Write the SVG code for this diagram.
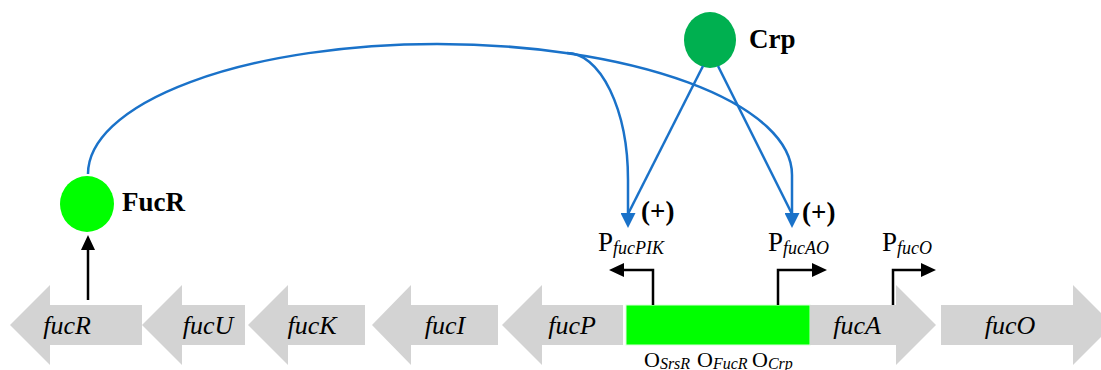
<svg xmlns="http://www.w3.org/2000/svg" width="1101" height="370" viewBox="0 0 1101 370">
  <style>
    .gene { fill: #D3D3D3; }
    .gname { font-family: "Liberation Serif", "Times New Roman", serif; font-style: italic; font-size: 26px; fill: #000; text-anchor: middle; }
    .prot { font-family: "Liberation Serif", "Times New Roman", serif; font-weight: bold; font-size: 27px; fill: #000; }
    .plabel { font-family: "Liberation Serif", "Times New Roman", serif; font-size: 27px; fill: #000; }
    .olabel { font-family: "Liberation Serif", "Times New Roman", serif; font-size: 22px; fill: #000; }
    .sub { font-style: italic; }
    .reg { fill: none; stroke: #1A72C9; stroke-width: 2.5; }
    .prom { fill: none; stroke: #000; stroke-width: 2.5; }
  </style>
  <defs>
    <marker id="blueHead" markerUnits="userSpaceOnUse" markerWidth="15" markerHeight="15" refX="1" refY="7.5" orient="auto">
      <path d="M0,0 L15,7.5 L0,15 z" fill="#1A72C9"/>
    </marker>
    <marker id="blackHead" markerUnits="userSpaceOnUse" markerWidth="15" markerHeight="15" refX="1" refY="7.5" orient="auto">
      <path d="M0,0.5 L15,7.5 L0,14.5 z" fill="#000"/>
    </marker>
  </defs>

  <!-- operon genes -->
  <g id="gene-fucR">
    <polygon class="gene" points="10,325 50,285 50,305 142,305 142,345 50,345 50,365"/>
    <text class="gname" x="67" y="334">fucR</text>
  </g>
  <g id="gene-fucU">
    <polygon class="gene" points="142,325 182,285 182,305 245,305 245,345 182,345 182,365"/>
    <text class="gname" x="208" y="334">fucU</text>
  </g>
  <g id="gene-fucK">
    <polygon class="gene" points="248,325 288,285 288,305 365,305 365,345 288,345 288,365"/>
    <text class="gname" x="312" y="334">fucK</text>
  </g>
  <g id="gene-fucI">
    <polygon class="gene" points="372,325 411,285 411,305 498,305 498,345 411,345 411,365"/>
    <text class="gname" x="445" y="334">fucI</text>
  </g>
  <g id="gene-fucP">
    <polygon class="gene" points="502,325 542,285 542,305 623,305 623,345 542,345 542,365"/>
    <text class="gname" x="572" y="334">fucP</text>
  </g>
  <g id="operator-region">
    <rect x="626" y="305" width="184" height="40" fill="#00FF00" stroke="#D8FFD8" stroke-width="1"/>
    <text class="olabel" x="644" y="367">O<tspan class="sub" font-size="16" dy="2">SrsR</tspan></text>
    <text class="olabel" x="697" y="367">O<tspan class="sub" font-size="16" dy="2">FucR</tspan></text>
    <text class="olabel" x="752" y="367">O<tspan class="sub" font-size="16" dy="2">Crp</tspan></text>
  </g>
  <g id="gene-fucA">
    <polygon class="gene" points="810,305 896,305 896,285 936,325 896,365 896,345 810,345"/>
    <text class="gname" x="857" y="334">fucA</text>
  </g>
  <g id="gene-fucO">
    <polygon class="gene" points="941,305 1073,305 1073,285 1113,325 1073,365 1073,345 941,345"/>
    <text class="gname" x="1010" y="334">fucO</text>
  </g>

  <!-- promoters -->
  <g id="promoter-fucPIK">
    <text class="plabel" x="598" y="251">P<tspan class="sub" font-size="18" dy="3">fucPIK</tspan></text>
  </g>
  <g id="promoter-fucAO">
    <text class="plabel" x="768" y="251">P<tspan class="sub" font-size="18" dy="3">fucAO</tspan></text>
  </g>
  <g id="promoter-fucO">
    <text class="plabel" x="882" y="251">P<tspan class="sub" font-size="18" dy="3">fucO</tspan></text>
  </g>

  <!-- regulators -->
  <g id="node-FucR">
    <ellipse cx="87" cy="204" rx="27" ry="28" fill="#00FF00"/>
    <text class="prot" x="122" y="211">FucR</text>
  </g>
  <g id="node-Crp">
    <ellipse cx="710" cy="40" rx="26" ry="28" fill="#00B050"/>
    <text class="prot" x="749" y="48">Crp</text>
  </g>

  <!-- activation marks -->
  <g id="label-activation">
    <text class="prot" x="641" y="220">(+)</text>
    <text class="prot" x="802" y="221">(+)</text>
  </g>

  <!-- connectors -->
  <g id="connectors">
    <path class="prom" d="M653,305 V270 H623" marker-end="url(#blackHead)"/>
    <path class="prom" d="M778,305 V270 H813" marker-end="url(#blackHead)"/>
    <path class="prom" d="M893,305 V270 H922" marker-end="url(#blackHead)"/>
    <path class="prom" d="M88,300 V249" marker-end="url(#blackHead)"/>

    <path class="reg" d="M88,174 A349,130 0 0 1 437,44 A355,131 0 0 1 792,175 L792,214" marker-end="url(#blueHead)"/>
    <path class="reg" d="M567,53 A61,127 0 0 1 628,180 L628,214" marker-end="url(#blueHead)"/>
    <path class="reg" d="M703,66 L628,214"/>
    <path class="reg" d="M718,66 L792,214"/>
  </g>
</svg>
